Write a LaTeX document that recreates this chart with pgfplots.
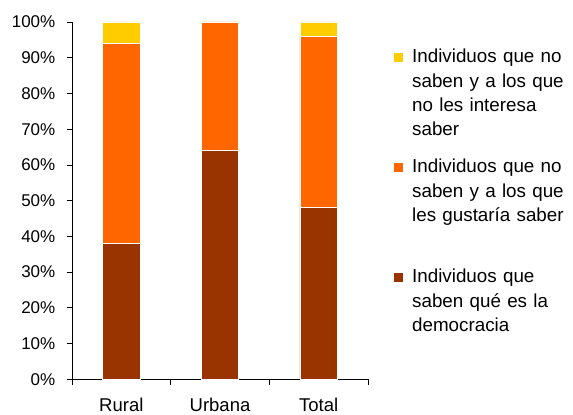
\documentclass[border=0pt]{standalone}
\usepackage{pgfplots}
\pgfplotsset{compat=1.18}
\usepackage{fontspec}
\setmainfont{Liberation Sans}
\definecolor{cBrown}{HTML}{993300}
\definecolor{cOrange}{HTML}{FF6600}
\definecolor{cYellow}{HTML}{FFCC00}
\begin{document}
\begin{tikzpicture}
\begin{axis}[
  at={(72bp,35.7bp)}, anchor=south west,
  scale only axis, width=296bp, height=357.3bp,
  ybar stacked, bar width=0.38,
  xmin=-0.5, xmax=2.5, ymin=0, ymax=100,
  axis x line=bottom, axis y line=left,
  axis line style={-, line width=0.8bp, black},
  tick style={line width=0.8bp, black},
  tick align=outside, major tick length=5.5bp,
  xtick={-0.5,0.5,1.5,2.5}, xticklabels={{},{},{},{}},
  extra x ticks={0,1,2}, extra x tick labels={Rural,Urbana,Total},
  extra x tick style={major tick length=0pt,
    xticklabel style={font=\fontsize{18.5bp}{22bp}\selectfont, anchor=base, inner sep=0pt, yshift=-32.5bp}},
  ytick={0,10,...,100},
  yticklabel={\pgfmathprintnumber[assume math mode=true]{\tick}\%},
  yticklabel style={font=\fontsize{17bp}{20bp}\selectfont, anchor=east, inner sep=0pt, xshift=-11bp},
  legend style={at={(1.0840,0.9250)}, anchor=north west, draw=none, fill=none,
    inner sep=0pt, outer sep=0pt, column sep=8bp, row sep=0pt,
    nodes={anchor=base west, text width=165bp, align=left, inner sep=0pt,
      text height=14bp, text depth=96bp, font=\fontsize{18.8bp}{24.4bp}\selectfont}},
  reverse legend,
  legend image code/.code={\fill[#1] (0bp,0bp) rectangle (10.5bp,10bp);},
]
\addplot[fill=cBrown, draw=white, line width=0.8bp] coordinates {(0,38) (1,64) (2,48)};
\addlegendentry{Individuos que\\saben qué es la\\democracia}
\addplot[fill=cOrange, draw=white, line width=0.8bp] coordinates {(0,56) (1,36) (2,48)};
\addlegendentry{Individuos que no\\saben y a los que\\les gustaría saber}
\addplot[fill=cYellow, draw=white, line width=0.8bp] coordinates {(0,6) (1,0) (2,4)};
\addlegendentry{Individuos que no\\saben y a los que\\no les interesa\\saber}
\end{axis}
\pgfresetboundingbox
\useasboundingbox (0,0) rectangle (573bp,415bp);
\end{tikzpicture}
\end{document}
